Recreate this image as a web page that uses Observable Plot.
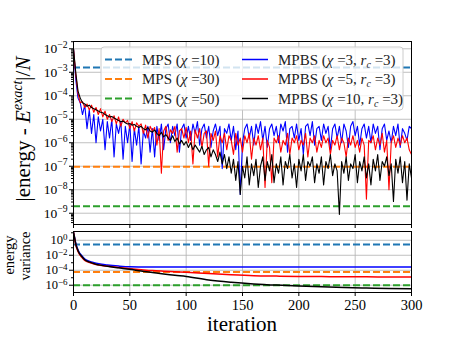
<!DOCTYPE html>
<html><head><meta charset="utf-8">
<script src="https://cdn.jsdelivr.net/npm/d3@7"></script>
<script src="https://cdn.jsdelivr.net/npm/@observablehq/plot@0.6"></script>
<style>
body{margin:0;background:#fff}
#fig{position:relative;width:457px;height:343px;font-family:"Liberation Serif",serif;overflow:hidden}
#fig svg{position:absolute;left:0;top:0}
</style></head><body><div id="fig"></div>
<script>
// ---- data (log10 of |energy - E_exact|/N), iterations 0,2,...,300 ----
const iterations = d3.range(0, 301, 2);
const blueLog = [
-2.0,-3.3,-4.1,-4.3,-4.8,-4.4,-5.4,-4.6,-5.6,-4.8,
-6.0,-4.9,-5.5,-5.0,-6.3,-5.1,-5.8,-5.0,-6.6,-5.2,
-5.6,-5.1,-6.7,-5.3,-6.0,-5.2,-6.8,-5.4,-6.1,-5.3,
-6.9,-5.5,-5.8,-5.3,-6.4,-5.4,-6.6,-5.3,-5.9,-5.2,
-6.3,-5.4,-5.2,-6.0,-5.3,-5.7,-5.2,-6.4,-5.4,-5.2,
-5.8,
-5.3,-5.9,-5.2,-5.6,-5.1,-6.1,-5.4,-5.2,-5.8,-5.3,
-6.2,-5.5,-5.2,-5.7,-5.3,-7.1,-5.4,-5.6,-5.2,-5.9,
-5.3,-6.3,-5.5,-8.2,-6.0,-5.4,-5.2,-5.8,-5.3,-6.1,
-5.2,-5.6,-5.1,-5.9,-5.3,-6.2,-5.4,-5.2,-5.7,-5.3,
-6.0,-5.2,-5.5,-5.1,-6.4,-5.4,-5.3,-5.8,-5.2,-5.9,
-5.4,-6.5,-5.3,-5.2,-5.7,-5.1,-6.1,-5.4,-5.3,-5.9,
-5.2,-5.6,-5.3,-6.3,-5.4,-5.2,-5.8,-5.3,-6.0,-5.2,
-5.5,-6.2,-5.3,-5.1,-5.7,-5.3,-6.1,-5.4,-5.2,-5.8,
-5.3,-6.0,-5.2,-5.6,-5.3,-6.3,-5.4,-5.2,-5.9,-5.5,
-6.0,-5.3,-5.7,-5.2,-6.2,-5.4,-5.6,-5.9,-5.3,-5.4];
const redLog = [
-2.0,-3.1,-3.9,-4.3,-4.25,-4.5,-4.35,-4.6,-4.4,-4.7,
-4.5,-4.8,-4.55,-4.9,-4.65,-5.0,-4.8,-5.1,-4.85,-5.2,
-4.9,-5.3,-5.0,-5.15,-5.05,-5.4,-5.1,-5.5,-5.15,-5.3,
-5.2,-5.6,-5.25,-5.8,-5.3,-5.5,-5.35,-6.1,-5.4,-7.3,
-5.5,-5.3,-5.9,-5.45,-5.6,-5.3,-6.4,-5.5,-5.4,-5.8,
-5.35,-6.0,-5.5,-6.9,-5.45,-5.8,-5.4,-6.2,-5.6,-5.5,
-7.0,-5.6,-5.9,-5.5,-6.6,-5.7,-6.0,-5.6,-6.3,-5.7,
-5.9,-6.5,-5.6,-6.1,-5.8,-6.4,-5.7,-6.0,-5.6,-6.7,
-5.8,-6.1,-5.7,-6.3,-5.8,-7.9,-5.9,-6.2,-7.7,-5.8,
-6.0,-5.7,-6.4,-5.9,-6.1,-5.6,-6.5,-5.8,-6.0,-5.7,
-6.3,-5.9,-6.1,-5.6,-6.6,-5.8,-6.0,-5.7,-6.4,-5.9,
-6.2,-5.7,-6.0,-5.8,-6.5,-5.9,-6.1,-5.7,-6.3,-5.8,
-6.0,-6.6,-5.8,-6.1,-5.7,-6.2,-5.9,-6.4,-5.8,-6.1,
-8.4,-5.9,-6.0,-5.7,-6.3,-5.8,-6.1,-5.6,-6.4,-5.9,
-8.0,-6.0,-5.7,-6.2,-5.8,-6.1,-5.7,-6.0,-5.8,-6.3,-6.5];
const blackLog = [
-2.0,-3.0,-3.8,-4.1,-4.3,-4.35,-4.45,-4.4,-4.5,-4.55,
-4.6,-4.65,-4.7,-4.72,-4.8,-4.85,-4.9,-4.88,-4.95,-5.0,
-5.05,-5.1,-5.08,-5.15,-5.2,-5.18,-5.25,-5.22,-5.3,-5.35,
-5.3,-5.4,-5.45,-5.35,-5.5,-5.55,-5.45,-5.6,-5.7,-5.55,
-5.75,-5.65,-5.8,-5.9,-5.7,-5.95,-5.8,-6.05,-5.9,-6.1,
-5.95,-6.2,-6.0,-6.3,-6.1,-6.25,-6.4,-6.15,-6.5,-6.3,
-6.2,-6.6,-6.3,-6.5,-6.8,-6.4,-6.9,-6.5,-7.1,-6.6,
-7.3,-6.7,-7.6,-6.8,-8.2,-7.0,-7.5,-6.6,-7.8,-6.9,
-7.4,-6.7,-7.9,-7.0,-6.6,-7.6,-6.8,-7.2,-6.5,-7.7,
-6.9,-7.3,-6.6,-7.8,-6.8,-7.1,-6.5,-7.5,-6.9,-7.9,
-6.7,-7.2,-6.5,-7.6,-6.8,-7.0,-6.6,-7.7,-6.9,-7.3,
-6.6,-7.8,-6.8,-7.1,-6.5,-7.4,-6.9,-7.2,-9.05,-6.8,
-7.3,-6.6,-7.6,-6.9,-7.1,-6.5,-7.7,-6.8,-7.2,-6.6,
-7.5,-6.9,-7.8,-6.7,-7.2,-6.5,-7.6,-6.8,-7.0,-6.6,
-7.4,-6.9,-8.5,-6.7,-7.3,-6.6,-7.7,-6.8,-8.45,-6.9,-7.5];

// ---- energy variance (log10) ----
const varIterations = [0,1,2,3,5,7,10,15,20,25,30,40,50,60,70,80,90,100,120,140,160,180,200,220,240,260,280,300];
const blueVarLog  = [1.05,0.3,-0.4,-0.9,-1.6,-2.0,-2.5,-2.85,-3.05,-3.2,-3.3,-3.45,-3.55,-3.57,-3.58,-3.58,-3.58,-3.58,-3.58,-3.58,-3.58,-3.58,-3.58,-3.58,-3.58,-3.58,-3.58,-3.58];
const redVarLog   = [1.05,0.2,-0.6,-1.1,-1.8,-2.2,-2.7,-3.0,-3.25,-3.36,-3.45,-3.63,-3.8,-3.93,-4.05,-4.13,-4.2,-4.27,-4.45,-4.6,-4.72,-4.78,-4.83,-4.85,-4.87,-4.88,-4.89,-4.9];
const blackVarLog = [1.05,0.3,-0.5,-1.0,-1.7,-2.1,-2.6,-2.95,-3.2,-3.35,-3.48,-3.68,-3.87,-4.1,-4.3,-4.5,-4.68,-4.83,-5.3,-5.6,-5.82,-5.98,-6.1,-6.2,-6.3,-6.37,-6.43,-6.47];

// ---- MPS reference values ----
const mpsChi = [10, 30, 50];
const mpsEnergy = [1.6e-3, 0.95e-7, 2.0e-9];
const mpsVariance = [0.28, 6e-5, 1.0e-6];
const mpsColors = ["#1f77b4", "#ff7f0e", "#2ca02c"];
const mpbsChi = [3, 5, 10];
const mpbsRc = [3, 3, 3];
const mpbsColors = ["#0000ff", "#ff0000", "#000000"];

// ---- ticks ----
const xTicks = [0, 50, 100, 150, 200, 250, 300];
const topMajor = [1e-2,1e-3,1e-4,1e-5,1e-6,1e-7,1e-8,1e-9];
const botMajor = [1e0,1e-2,1e-4,1e-6];
const botMinor = [1e1,1e-1,1e-3,1e-5];

const topDomain = [10 ** -9.48, 10 ** -1.69];
const botDomain = [10 ** -6.97, 10 ** 1.17];
const topMinor = [];
for (let k = -10; k <= -2; k++) for (let m = 2; m <= 9; m++) {
  const v = m * 10 ** k; if (v > topDomain[0] && v < topDomain[1]) topMinor.push(v);
}

const FONT = '"Liberation Serif", serif';
const grid = {stroke: "#b0b0b0", strokeOpacity: 1, strokeWidth: 0.8};
const expFmt = d => "10^" + Math.round(Math.log10(d));
const baseStyle = {fontFamily: FONT, background: "transparent", overflow: "visible", color: "#000"};

const series = [blueLog, redLog, blackLog];
const varSeries = [blueVarLog, redVarLog, blackVarLog];

const topPlot = Plot.plot({
  width: 457, height: 226, marginLeft: 73, marginRight: 46, marginTop: 41, marginBottom: 2,
  style: {...baseStyle, fontSize: "13.5px"},
  x: {domain: [0, 300], label: null},
  y: {type: "log", domain: topDomain, label: null},
  marks: [
    Plot.gridX(xTicks.slice(1, -1), grid),
    Plot.gridY(topMajor, grid),
    ...mpsEnergy.map((v, i) => Plot.ruleY([v], {stroke: mpsColors[i], strokeWidth: 2, strokeDasharray: "7,3"})),
    ...series.map((s, j) => Plot.line(iterations.map((t, i) => ({t, v: 10 ** s[i]})),
        {x: "t", y: "v", stroke: mpbsColors[j], strokeWidth: 1.1, clip: true})),
    Plot.frame({stroke: "#000", strokeWidth: 1}),
    Plot.axisY(topMinor, {tickSize: 2, tickFormat: () => "", label: null}),
    Plot.axisY(topMajor, {tickSize: 4, tickPadding: 2, tickFormat: expFmt, fontSize: 13.5, label: null}),
    Plot.axisX(xTicks, {tickSize: 4, tickFormat: () => "", label: null})
  ]
});

const botPlot = Plot.plot({
  width: 457, height: 343, marginLeft: 73, marginRight: 46, marginTop: 231, marginBottom: 51,
  style: {...baseStyle, fontSize: "14.5px"},
  x: {domain: [0, 300], label: null},
  y: {type: "log", domain: botDomain, label: null},
  marks: [
    Plot.gridX(xTicks.slice(1, -1), grid),
    Plot.gridY(botMajor, grid),
    ...mpsVariance.map((v, i) => Plot.ruleY([v], {stroke: mpsColors[i], strokeWidth: 2, strokeDasharray: "7,3"})),
    ...varSeries.map((s, j) => Plot.line(varIterations.map((t, i) => ({t, v: 10 ** s[i]})),
        {x: "t", y: "v", stroke: mpbsColors[j], strokeWidth: 1.5, curve: "monotone-x", clip: true})),
    Plot.frame({stroke: "#000", strokeWidth: 1}),
    Plot.axisY(botMinor, {tickSize: 2, tickFormat: () => "", label: null}),
    Plot.axisY(botMajor, {tickSize: 4, tickPadding: 2, tickFormat: expFmt, fontSize: 12.5, label: null}),
    Plot.axisX(xTicks, {tickSize: 4, tickPadding: 3, fontSize: 14.5, label: null})
  ]
});

function supers(svg, lift) {
  d3.select(svg).selectAll('g[aria-label="y-axis tick label"] text').each(function () {
    const s = this.textContent;
    if (!s.startsWith("10^")) return;
    const e = s.slice(3).replace("-", "\u2212");
    this.textContent = "";
    const t = d3.select(this);
    t.append("tspan").text("10");
    t.append("tspan").attr("dy", lift).attr("font-size", "0.72em").text(e);
  });
}
supers(topPlot, "-0.55em"); supers(botPlot, "-0.45em");

const fig = document.getElementById("fig");
fig.appendChild(botPlot);
fig.appendChild(topPlot);

// ---- overlay: labels and legend ----
const ov = d3.select(fig).append("svg").attr("width", 457).attr("height", 343)
  .attr("font-family", FONT).style("overflow", "visible");

// y label top
const yl = ov.append("text").attr("transform", "translate(30,129) rotate(-90)")
  .attr("text-anchor", "middle").attr("font-size", 21);
yl.append("tspan").text("|energy - ");
yl.append("tspan").attr("font-style", "italic").text("E");
yl.append("tspan").attr("font-style", "italic").attr("font-size", 14).attr("dy", -8).text("exact");
yl.append("tspan").attr("dy", 8).text("|/");
yl.append("tspan").attr("font-style", "italic").text("N");

// y label bottom (two lines)
ov.append("text").attr("transform", "translate(14,255) rotate(-90)").attr("text-anchor", "middle")
  .attr("font-size", 14.5).text("energy");
ov.append("text").attr("transform", "translate(30,256) rotate(-90)").attr("text-anchor", "middle")
  .attr("font-size", 14.5).text("variance");

// x label
ov.append("text").attr("x", 242).attr("y", 331).attr("text-anchor", "middle")
  .attr("font-size", 21).text("iteration");

// legend
const lg = ov.append("g").attr("transform", "translate(101,47)");
lg.append("rect").attr("width", 302).attr("height", 63).attr("rx", 3)
  .attr("fill", "#fff").attr("fill-opacity", 0.8).attr("stroke", "#cccccc");
const rows = [12.5, 32, 51.5];
mpsChi.forEach((c, i) => {
  lg.append("line").attr("x1", 4).attr("x2", 31).attr("y1", rows[i]).attr("y2", rows[i])
    .attr("stroke", mpsColors[i]).attr("stroke-width", 2).attr("stroke-dasharray", "7,3");
  const t = lg.append("text").attr("x", 41).attr("y", rows[i] + 5).attr("font-size", 15).attr("fill", "#222");
  t.append("tspan").text("MPS (");
  t.append("tspan").attr("font-style", "italic").text("χ");
  t.append("tspan").text(" =" + c + ")");
});
mpbsChi.forEach((c, i) => {
  lg.append("line").attr("x1", 141).attr("x2", 167).attr("y1", rows[i]).attr("y2", rows[i])
    .attr("stroke", mpbsColors[i]).attr("stroke-width", 1.5);
  const t = lg.append("text").attr("x", 177).attr("y", rows[i] + 5).attr("font-size", 15).attr("fill", "#222");
  t.append("tspan").text("MPBS (");
  t.append("tspan").attr("font-style", "italic").text("χ");
  t.append("tspan").text(" =" + c + ", ");
  t.append("tspan").attr("font-style", "italic").text("r");
  t.append("tspan").attr("font-style", "italic").attr("font-size", 10).attr("dy", 3).text("c");
  t.append("tspan").attr("dy", -3).text(" =" + mpbsRc[i] + ")");
});
</script></body></html>
